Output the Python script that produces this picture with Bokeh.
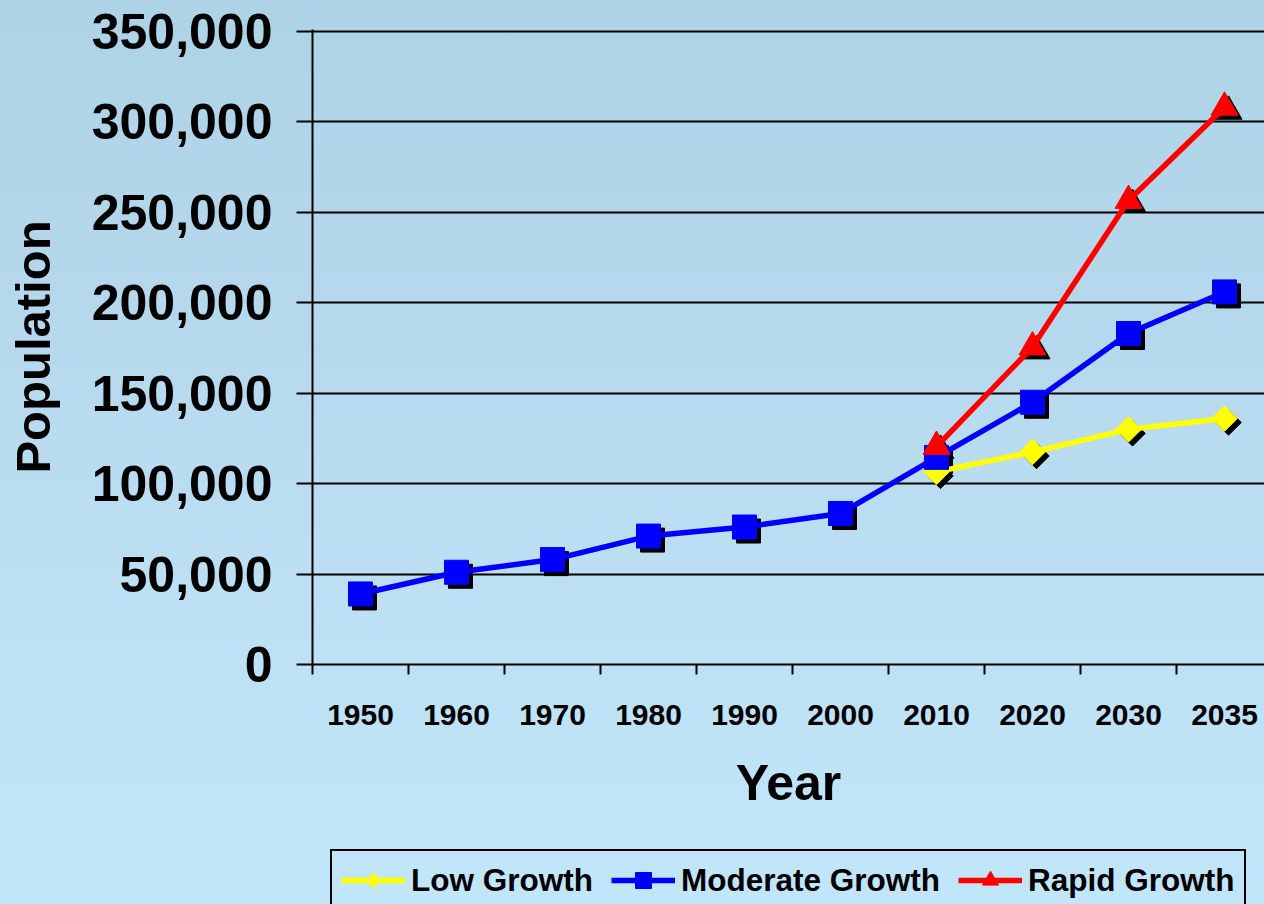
from bokeh.plotting import figure
from bokeh.layouts import column
from bokeh.models import (Range1d, FixedTicker, NumeralTickFormatter, Legend,
                          LegendItem, ColumnDataSource, InlineStyleSheet)
from bokeh.transform import dodge
from bokeh.embed import file_html
from bokeh.resources import INLINE

# Census years on the category axis
years = ["1950", "1960", "1970", "1980", "1990", "2000", "2010", "2020", "2030", "2035"]

# Population history and projections
moderate = [39000, 51000, 58000, 71000, 76000, 83500, 114500, 145000, 183000, 206000]
low_years = ["2010", "2020", "2030", "2035"]
low = [106500, 117500, 130000, 136000]
rapid_years = ["2010", "2020", "2030", "2035"]
rapid = [120500, 175500, 256500, 308000]

y_ticks = [0, 50000, 100000, 150000, 200000, 250000, 300000, 350000]

FONT = "Liberation Sans"


def pos(cats):
    # centre of each year's slot on the numeric x scale
    return [years.index(c) + 0.5 for c in cats]


src_mod = ColumnDataSource(dict(x=pos(years), y=moderate))
src_low = ColumnDataSource(dict(x=pos(low_years), y=low))
src_rap = ColumnDataSource(dict(x=pos(rapid_years), y=rapid))

p = figure(width=1264, height=840, output_backend="svg", toolbar_location=None,
           x_range=Range1d(0, 952 / 96), y_range=Range1d(0, 351100),
           min_border_left=312, min_border_right=0, min_border_top=29,
           min_border_bottom=176)
p.background_fill_alpha = 0
p.border_fill_alpha = 0
p.outline_line_color = None

# y axis
p.yaxis.ticker = FixedTicker(ticks=y_ticks)
p.yaxis.formatter = NumeralTickFormatter(format="0,0")
p.yaxis.axis_label = "Population"
p.yaxis.axis_label_text_font = FONT
p.yaxis.axis_label_text_font_style = "bold"
p.yaxis.axis_label_text_font_size = "49px"
p.yaxis.axis_label_text_color = "black"
p.yaxis.axis_label_standoff = 29
p.yaxis.major_label_text_font = FONT
p.yaxis.major_label_text_font_style = "bold"
p.yaxis.major_label_text_font_size = "50px"
p.yaxis.major_label_text_color = "black"
p.yaxis.major_label_standoff = 24
p.yaxis.major_tick_out = 16
p.yaxis.major_tick_in = 0
p.yaxis.minor_tick_line_color = None
p.yaxis.axis_line_width = 2
p.yaxis.major_tick_line_width = 2
p.yaxis.axis_line_color = "black"
p.yaxis.major_tick_line_color = "black"

# x axis: labels centred in each slot, tick marks on slot boundaries
centres = [i + 0.5 for i in range(len(years))]
bounds = [float(i) for i in range(len(years))]
p.xaxis.ticker = FixedTicker(ticks=centres, minor_ticks=bounds)
p.xaxis.major_label_overrides = {c: y for c, y in zip(centres, years)}
p.xaxis.major_tick_out = 0
p.xaxis.major_tick_in = 0
p.xaxis.minor_tick_out = 10
p.xaxis.minor_tick_in = 0
p.xaxis.minor_tick_line_color = "black"
p.xaxis.minor_tick_line_width = 2
p.xaxis.axis_line_width = 2
p.xaxis.axis_line_color = "black"
p.xaxis.major_label_text_font = FONT
p.xaxis.major_label_text_font_style = "bold"
p.xaxis.major_label_text_font_size = "30px"
p.xaxis.major_label_text_color = "black"
p.xaxis.major_label_standoff = 30
p.xaxis.axis_label = "Year"
p.xaxis.axis_label_text_font = FONT
p.xaxis.axis_label_text_font_style = "bold"
p.xaxis.axis_label_text_font_size = "50px"
p.xaxis.axis_label_text_color = "black"
p.xaxis.axis_label_standoff = 27

p.xgrid.visible = False
p.ygrid.ticker = FixedTicker(ticks=y_ticks)
p.ygrid.grid_line_color = "black"
p.ygrid.grid_line_width = 2
p.ygrid.grid_line_alpha = 1

# marker drop shadows, a few pixels right and down
dx, dy = 4 / 96, -4 * 351100 / 635
for src, marker, size, angle in [(src_low, "square", 18, 0.785398),
                                 (src_mod, "square", 24, 0),
                                 (src_rap, "triangle", 27, 0)]:
    p.scatter(x=dodge("x", dx), y=dodge("y", dy), source=src, marker=marker,
              size=size, angle=angle, fill_color="black", line_color="black")

series = [("Low Growth", src_low, "#ffff00", "square", 18, 0.785398, "diamond"),
          ("Moderate Growth", src_mod, "#0000ff", "square", 24, 0, "square"),
          ("Rapid Growth", src_rap, "#ff0000", "triangle", 27, 0, "triangle")]

for label, src, color, marker, size, angle, _ in series:
    p.line("x", "y", source=src, line_color=color, line_width=5.5)
    p.scatter("x", "y", source=src, marker=marker, size=size, angle=angle,
              fill_color=color, line_color=color)

# legend strip under the chart; its y range sits below all the data, so the
# series drawn here only supply the legend swatches
key = figure(width=1264, height=64, output_backend="svg", toolbar_location=None,
             x_range=Range1d(0, 952 / 96), y_range=Range1d(-2, -1),
             x_axis_type=None, y_axis_type=None,
             min_border_left=312, min_border_right=0, min_border_top=0,
             min_border_bottom=0)
key.background_fill_alpha = 0
key.border_fill_alpha = 0
key.outline_line_color = None
key.grid.visible = False

items = []
for label, src, color, _, size, _, swatch in series:
    ln = key.line("x", "y", source=src, line_color=color, line_width=5.5)
    mk = key.scatter("x", "y", source=src, marker=swatch, size=size,
                     fill_color=color, line_color=color)
    items.append(LegendItem(label=label, renderers=[ln, mk]))

legend = Legend(items=items, orientation="horizontal", location=(18, -7),
                glyph_width=64, glyph_height=40, label_standoff=6, spacing=18,
                padding=9, margin=0, border_line_color="black",
                border_line_width=2, border_line_alpha=1,
                background_fill_alpha=0,
                label_text_font=FONT, label_text_font_style="bold",
                label_text_font_size="31.5px", label_text_color="black")
key.add_layout(legend, "center")

page = column(p, key, spacing=0)
page.stylesheets = [InlineStyleSheet(css=""":host {
  background: linear-gradient(to bottom, #aed2e6 0%, #b5d8ec 35%, #bcdff3 65%, #c1e6fa 100%);
}""")]

open("out.html", "w").write(file_html(page, INLINE))
